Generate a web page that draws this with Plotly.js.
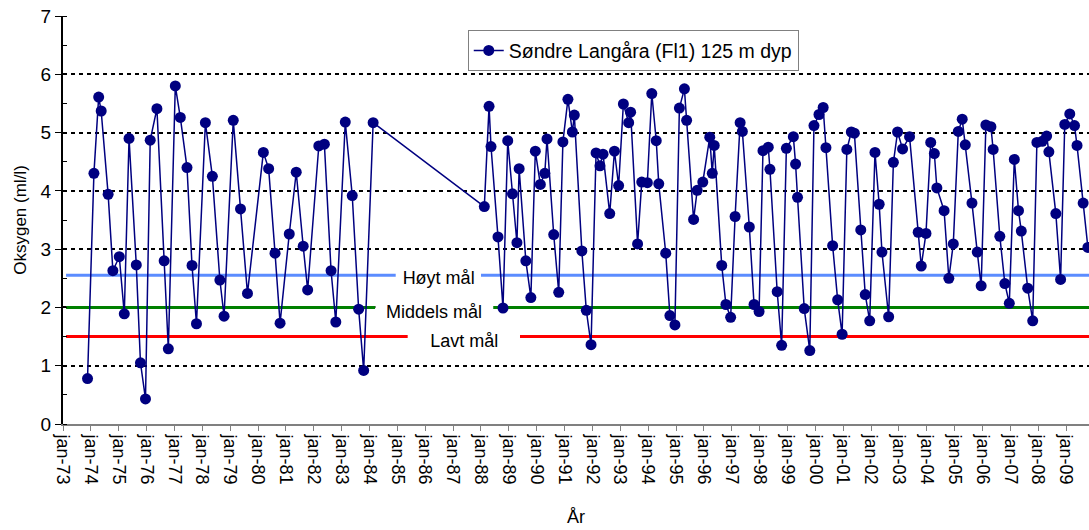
<!DOCTYPE html>
<html>
<head>
<meta charset="utf-8">
<script src="https://cdn.plot.ly/plotly-3.0.1.min.js"></script>
<style>
  html, body { margin: 0; padding: 0; background: #fff; }
  #chart { width: 1089px; height: 530px; }
</style>
</head>
<body>
<div id="chart"></div>
<script>
// Sampling time (decimal year) and oxygen (ml/l)
const sampleTime = [
  1973.88, 1974.11, 1974.28, 1974.37, 1974.62, 1974.79, 1975.02, 1975.20, 1975.37, 1975.63,
  1975.78, 1975.96, 1976.13, 1976.37, 1976.63, 1976.78, 1977.03, 1977.21, 1977.45, 1977.63,
  1977.79, 1978.11, 1978.36, 1978.63, 1978.78, 1979.11, 1979.37, 1979.62, 1980.19, 1980.38,
  1980.61, 1980.79, 1981.12, 1981.37, 1981.62, 1981.78, 1982.18, 1982.38, 1982.62, 1982.79,
  1983.13, 1983.38, 1983.61, 1983.79, 1984.13, 1988.12, 1988.29, 1988.36, 1988.61, 1988.79,
  1988.96, 1989.13, 1989.29, 1989.37, 1989.61, 1989.79, 1989.95, 1990.13, 1990.29, 1990.37,
  1990.61, 1990.79, 1990.94, 1991.12, 1991.28, 1991.35, 1991.62, 1991.78, 1991.95, 1992.13,
  1992.27, 1992.38, 1992.62, 1992.79, 1992.94, 1993.11, 1993.30, 1993.37, 1993.62, 1993.77,
  1993.97, 1994.13, 1994.29, 1994.38, 1994.63, 1994.78, 1994.96, 1995.12, 1995.30, 1995.38,
  1995.63, 1995.76, 1995.96, 1996.21, 1996.30, 1996.37, 1996.64, 1996.79, 1996.96, 1997.12,
  1997.30, 1997.38, 1997.63, 1997.80, 1997.98, 1998.12, 1998.31, 1998.37, 1998.63, 1998.79,
  1998.96, 1999.21, 1999.29, 1999.36, 1999.60, 1999.80, 1999.95, 2000.13, 2000.28, 2000.38,
  2000.62, 2000.80, 2000.96, 2001.13, 2001.29, 2001.40, 2001.63, 2001.79, 2001.95, 2002.14,
  2002.29, 2002.39, 2002.63, 2002.80, 2002.95, 2003.13, 2003.38, 2003.69, 2003.80, 2003.97,
  2004.14, 2004.27, 2004.36, 2004.62, 2004.79, 2004.95, 2005.13, 2005.27, 2005.38, 2005.62,
  2005.81, 2005.95, 2006.12, 2006.30, 2006.38, 2006.62, 2006.80, 2006.96, 2007.14, 2007.29,
  2007.39, 2007.62, 2007.80, 2007.95, 2008.14, 2008.30, 2008.38, 2008.63, 2008.80, 2008.95,
  2009.13, 2009.30, 2009.39, 2009.61, 2009.78
];
const oxygen = [
  0.78, 4.30, 5.61, 5.37, 3.94, 2.63, 2.87, 1.89, 4.90, 2.73,
  1.05, 0.43, 4.87, 5.41, 2.80, 1.29, 5.80, 5.26, 4.40, 2.72,
  1.72, 5.17, 4.25, 2.47, 1.85, 5.21, 3.69, 2.24, 4.66, 4.38,
  2.93, 1.73, 3.26, 4.32, 3.05, 2.30, 4.77, 4.80, 2.63, 1.75,
  5.18, 3.92, 1.97, 0.92, 5.17, 3.73, 5.45, 4.76, 3.21, 1.99,
  4.86, 3.95, 3.11, 4.38, 2.80, 2.17, 4.68, 4.11, 4.30, 4.89,
  3.25, 2.26, 4.84, 5.57, 5.01, 5.30, 2.97, 1.95, 1.36, 4.65,
  4.43, 4.63, 3.61, 4.68, 4.09, 5.49, 5.17, 5.35, 3.09, 4.15,
  4.14, 5.67, 4.86, 4.12, 2.93, 1.86, 1.70, 5.42, 5.75, 5.21,
  3.51, 4.01, 4.15, 4.92, 4.30, 4.78, 2.72, 2.05, 1.83, 3.56,
  5.17, 5.02, 3.38, 2.05, 1.93, 4.69, 4.75, 4.37, 2.27, 1.35,
  4.73, 4.93, 4.46, 3.89, 1.98, 1.26, 5.12, 5.31, 5.43, 4.74,
  3.06, 2.13, 1.54, 4.71, 5.01, 4.99, 3.33, 2.22, 1.77, 4.66,
  3.77, 2.95, 1.84, 4.49, 5.01, 4.72, 4.93, 3.29, 2.71, 3.27,
  4.83, 4.64, 4.05, 3.66, 2.50, 3.09, 5.02, 5.23, 4.79, 3.79,
  2.95, 2.37, 5.13, 5.10, 4.71, 3.22, 2.41, 2.07, 4.54, 3.66,
  3.31, 2.33, 1.77, 4.83, 4.85, 4.94, 4.67, 3.61, 2.48, 5.14,
  5.32, 5.12, 4.78, 3.79, 3.03
];

const seriesName = 'Søndre Langåra (Fl1) 125 m dyp';

// Target levels (ml/l)
const targetNames  = ['Høyt mål', 'Middels mål', 'Lavt mål'];
const targetLevels = [2.55, 2.0, 1.5];
const targetColors = ['#5b8cff', '#008000', '#ff0000'];
// Where each target line is interrupted by its label (decimal year)
const targetGapStart = [1984.94, 1984.20, 1985.37];
const targetGapEnd   = [1988.00, 1988.44, 1989.40];
const targetLabelY   = [2.50, 1.92, 1.42];

// Axis ticks
const tickYears = [];
for (let y = 1973; y <= 2009; y++) tickYears.push(y);
const tickLabels = tickYears.map(y => 'jan-' + String(y % 100).padStart(2, '0'));

const xStart = 1973.11;
const xMin = 1973, xMax = 2009.82;

const FONT = '"Liberation Sans", Arial, sans-serif';
const W = 1089, H = 530;
const M = { l: 63, r: 0, t: 16, b: 106 };
const pxPerYear = (W - M.l - M.r) / (xMax - xMin);

const traces = [];
targetLevels.forEach((lvl, i) => {
  traces.push({
    x: [xStart, targetGapStart[i], null, targetGapEnd[i], xMax + 1],
    y: [lvl, lvl, null, lvl, lvl],
    mode: 'lines',
    line: { color: targetColors[i], width: 3 },
    showlegend: false,
    hoverinfo: 'skip',
    connectgaps: false
  });
});
traces.push({
  x: sampleTime,
  y: oxygen,
  name: seriesName,
  mode: 'lines+markers',
  line: { color: '#000080', width: 1.5 },
  marker: { color: '#000080', size: 11, symbol: 'circle' }
});

const annotations = targetNames.map((t, i) => ({
  x: (targetGapStart[i] + targetGapEnd[i]) / 2, y: targetLabelY[i], xref: 'x', yref: 'y',
  text: t, showarrow: false, xanchor: 'center', yanchor: 'middle',
  width: (targetGapEnd[i] - targetGapStart[i]) * pxPerYear - 2, height: 20,
  bgcolor: '#fff', borderpad: 0,
  font: { family: FONT, size: 18, color: '#000' }
}));

const layout = {
  width: W, height: H,
  margin: M,
  paper_bgcolor: '#fff', plot_bgcolor: '#fff',
  font: { family: FONT, color: '#000' },
  showlegend: true,
  legend: {
    x: 0.3945, y: 0.965, xanchor: 'left', yanchor: 'top',
    bgcolor: '#fff', bordercolor: '#808080', borderwidth: 1,
    font: { family: FONT, size: 19.5, color: '#000' },
    tracegroupgap: 0
  },
  xaxis: {
    range: [xMin, xMax],
    tickmode: 'array', tickvals: tickYears, ticktext: tickLabels,
    tickangle: 90,
    tickfont: { family: FONT, size: 18, color: '#000' },
    ticks: 'outside', ticklen: 5, tickcolor: '#808080', tickwidth: 1,
    showline: true, linecolor: '#808080', linewidth: 2,
    showgrid: false, zeroline: false,
    title: { text: 'År', font: { family: FONT, size: 18, color: '#000' }, standoff: 27 }
  },
  yaxis: {
    range: [0, 7], dtick: 1, tick0: 0,
    tickfont: { family: FONT, size: 19, color: '#000' },
    ticks: 'outside', ticklen: 6, tickcolor: '#000', tickwidth: 1,
    minor: { dtick: 0.5, ticks: 'inside', ticklen: 4, tickcolor: '#000', showgrid: false },
    showline: true, linecolor: '#000', linewidth: 2,
    showgrid: true, gridcolor: '#000', gridwidth: 2, griddash: '4px,4px',
    zeroline: false,
    title: { text: 'Oksygen (ml/l)', font: { family: FONT, size: 17, color: '#000' }, standoff: 10 }
  },
  annotations: annotations
};

Plotly.newPlot('chart', traces, layout, { staticPlot: true, displayModeBar: false });
</script>
</body>
</html>
